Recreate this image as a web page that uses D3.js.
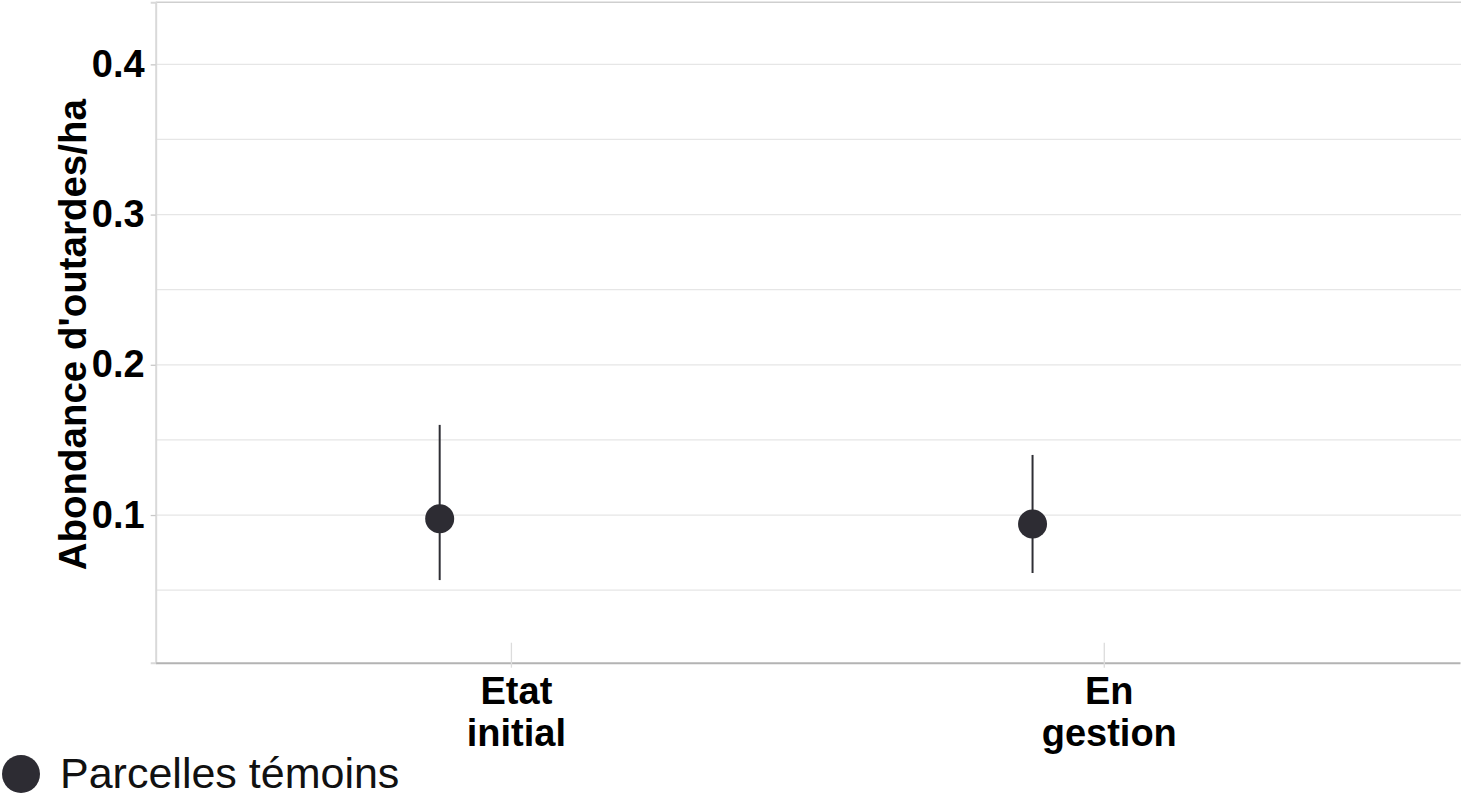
<!DOCTYPE html>
<html>
<head>
<meta charset="utf-8">
<script src="https://cdn.jsdelivr.net/npm/d3@7"></script>
<style>
  html, body { margin: 0; padding: 0; background: #fff; }
  svg { display: block; font-family: "Liberation Sans", Arial, sans-serif; }
</style>
</head>
<body>
<svg id="chart" width="1461" height="798"></svg>
<script>
// ---- data ----
const categories = ["Etat initial", "En gestion"];
const categoryLines = [["Etat", "initial"], ["En", "gestion"]];
const seriesName = "Parcelles témoins";
const means = [0.0975, 0.094];
const lower = [0.0567, 0.0614];
const upper = [0.160, 0.140];
const yMajorTicks = [0.1, 0.2, 0.3, 0.4];
const yMinorTicks = [0.05, 0.15, 0.25, 0.35];
const yTitle = "Abondance d'outardes/ha";

(function () {
// ---- layout ----
const svg = d3.select("#chart");
const pLeft = 155.7, pRight = 1460, pTop = 2.3, pBottom = 662.7;
const dodge = -0.121;

const x = d3.scaleLinear().domain([0.4, 2.6]).range([pLeft, pRight]);
const y = d3.scaleLinear().domain([0.0017, 0.4413]).range([pBottom, pTop]);

// gridlines
svg.append("g").selectAll("line").data(yMinorTicks.concat(yMajorTicks)).join("line")
  .attr("x1", pLeft).attr("x2", 1461)
  .attr("y1", d => y(d)).attr("y2", d => y(d))
  .attr("stroke", "#e6e6e6").attr("stroke-width", 1.3);

// top border
svg.append("line").attr("x1", pLeft).attr("x2", 1461).attr("y1", pTop).attr("y2", pTop)
  .attr("stroke", "#cfcfcf").attr("stroke-width", 1.5);

// y axis
const yAxis = d3.axisLeft(y).tickValues(yMajorTicks).tickSize(5).tickPadding(6)
  .tickFormat(d3.format(".1f"));
const gy = svg.append("g").attr("transform", `translate(${pLeft},0)`).call(yAxis);
gy.select(".domain").attr("stroke", "#d9d9d9").attr("stroke-width", 2);
gy.selectAll(".tick line").attr("stroke", "#c8c8c8").attr("stroke-width", 1.3);
gy.selectAll(".tick text").attr("fill", "#000").attr("font-size", 38)
  .attr("font-weight", "bold").attr("font-family", "Liberation Sans, Arial, sans-serif");

// x axis
const xAxis = d3.axisBottom(x).tickValues([1, 2]).tickSize(0).tickFormat("");
const gx = svg.append("g").attr("transform", `translate(0,${pBottom})`).call(xAxis);
gx.select(".domain").attr("stroke", "#b3b3b3").attr("stroke-width", 2);
// category tick marks crossing the axis
svg.append("g").selectAll("line").data([1, 2]).join("line")
  .attr("x1", d => x(d)).attr("x2", d => x(d))
  .attr("y1", pBottom - 20).attr("y2", pBottom + 5)
  .attr("stroke", "#dcdcdc").attr("stroke-width", 1.3);
// category labels
const labs = svg.append("g").selectAll("text").data(categoryLines).join("text")
  .attr("x", (d, i) => x(i + 1) + 5)
  .attr("text-anchor", "middle")
  .attr("font-size", 38).attr("font-weight", "bold").attr("fill", "#000");
labs.selectAll("tspan").data(d => d).join("tspan")
  .attr("x", function() { return d3.select(this.parentNode).attr("x"); })
  .attr("y", (d, i) => 704 + i * 42)
  .text(d => d);

// y title
svg.append("text")
  .attr("transform", `translate(86,${y(0.22)}) rotate(-90)`)
  .attr("text-anchor", "middle")
  .attr("font-size", 38.5).attr("font-weight", "bold").attr("fill", "#000")
  .text(yTitle);

// error bars
const idx = d3.range(categories.length);
svg.append("g").selectAll("line").data(idx).join("line")
  .attr("x1", i => x(i + 1 + dodge)).attr("x2", i => x(i + 1 + dodge))
  .attr("y1", i => y(upper[i])).attr("y2", i => y(lower[i]))
  .attr("stroke", "#2f2f35").attr("stroke-width", 2);

// points
svg.append("g").selectAll("circle").data(idx).join("circle")
  .attr("cx", i => x(i + 1 + dodge)).attr("cy", i => y(means[i]))
  .attr("r", 14.5).attr("fill", "#2d2c33");

// legend
svg.append("circle").attr("cx", 21).attr("cy", 774).attr("r", 19).attr("fill", "#2d2c33");
svg.append("text").attr("x", 60).attr("y", 788)
  .attr("font-size", 43).attr("fill", "#111").text(seriesName);
})();
</script>
</body>
</html>
